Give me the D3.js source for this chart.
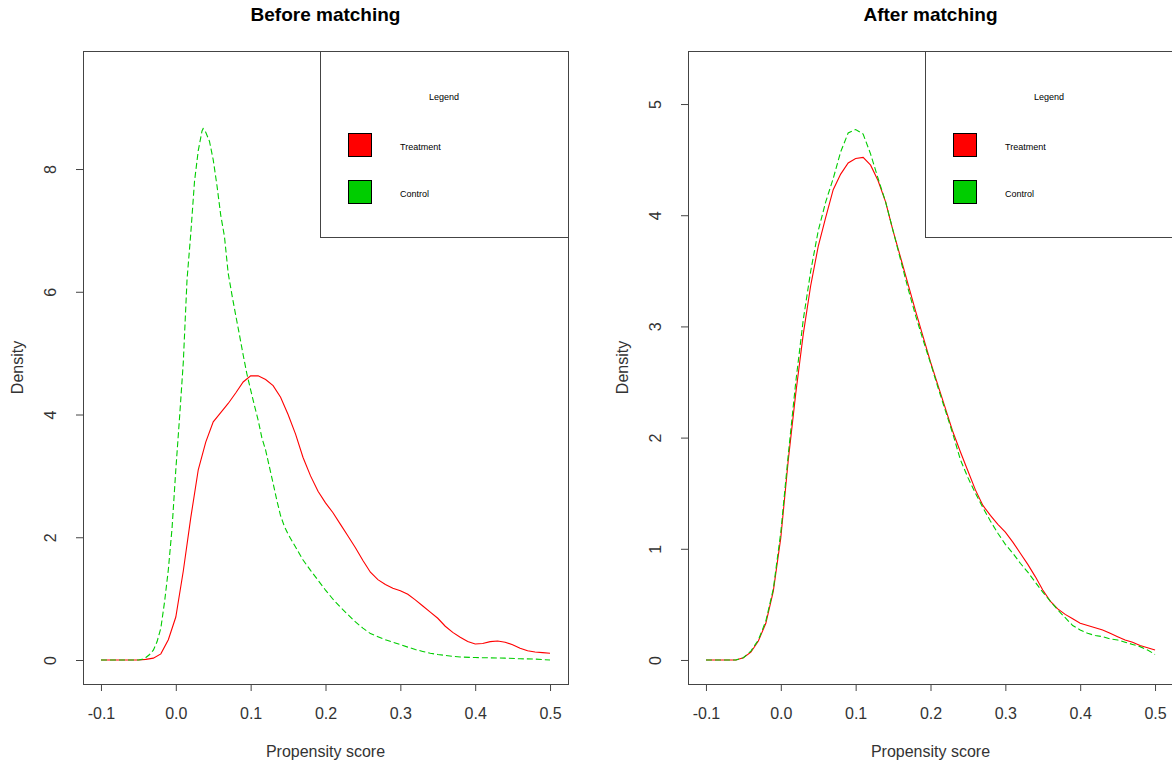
<!DOCTYPE html>
<html>
<head>
<meta charset="utf-8">
<script src="https://cdn.jsdelivr.net/npm/d3@7"></script>
<style>
  body { margin: 0; background: #fff; }
  svg text { font-family: Arial, "Liberation Sans", sans-serif; }
</style>
</head>
<body>
<svg id="chart" width="1172" height="769"></svg>
<script>
// x grid shared by the "before" treatment curve and both "after" curves
const gridX = [-0.10, -0.09, -0.08, -0.07, -0.06, -0.05, -0.04, -0.03, -0.02, -0.01,
  0.00, 0.01, 0.02, 0.03, 0.04, 0.05, 0.06, 0.07, 0.08, 0.09,
  0.10, 0.11, 0.12, 0.13, 0.14, 0.15, 0.16, 0.17, 0.18, 0.19,
  0.20, 0.21, 0.22, 0.23, 0.24, 0.25, 0.26, 0.27, 0.28, 0.29,
  0.30, 0.31, 0.32, 0.33, 0.34, 0.35, 0.36, 0.37, 0.38, 0.39,
  0.40, 0.41, 0.42, 0.43, 0.44, 0.45, 0.46, 0.47, 0.48, 0.49, 0.50];

// Before matching
const beforeTreatment = [0, 0, 0, 0, 0, 0, 0.01, 0.03, 0.10, 0.33,
  0.70, 1.45, 2.32, 3.10, 3.55, 3.88, 4.03, 4.18, 4.35, 4.53,
  4.63, 4.63, 4.57, 4.47, 4.28, 4.00, 3.68, 3.30, 3.00, 2.75,
  2.56, 2.40, 2.21, 2.02, 1.83, 1.62, 1.43, 1.31, 1.23, 1.17,
  1.13, 1.07, 0.98, 0.88, 0.78, 0.68, 0.55, 0.45, 0.37, 0.30,
  0.26, 0.27, 0.30, 0.31, 0.29, 0.25, 0.19, 0.15, 0.13, 0.12, 0.11];

const beforeControlX = [-0.10, -0.05, -0.045, -0.04, -0.035, -0.03, -0.025, -0.02, -0.015, -0.01,
  -0.005, 0.0, 0.005, 0.01, 0.015, 0.02, 0.025, 0.03, 0.035, 0.0365,
  0.04, 0.045, 0.05, 0.055, 0.06, 0.065, 0.07, 0.075, 0.08, 0.085,
  0.09, 0.095, 0.10, 0.105, 0.11, 0.115, 0.12, 0.125, 0.13, 0.135,
  0.14, 0.145, 0.15, 0.16, 0.17, 0.18, 0.19, 0.20, 0.21, 0.22,
  0.23, 0.24, 0.25, 0.26, 0.27, 0.28, 0.29, 0.30, 0.31, 0.32,
  0.33, 0.34, 0.35, 0.36, 0.37, 0.38, 0.40, 0.42, 0.44, 0.46, 0.48, 0.50];
const beforeControl = [0, 0, 0.01, 0.04, 0.09, 0.16, 0.30, 0.52, 0.95, 1.47,
  2.15, 3.10, 3.95, 4.85, 6.20, 6.95, 7.80, 8.30, 8.62, 8.66,
  8.60, 8.45, 8.15, 7.73, 7.25, 6.90, 6.30, 5.95, 5.62, 5.30,
  4.97, 4.66, 4.40, 4.15, 3.91, 3.62, 3.42, 3.15, 2.88, 2.60,
  2.35, 2.18, 2.05, 1.84, 1.63, 1.46, 1.30, 1.14, 0.99, 0.86,
  0.74, 0.62, 0.52, 0.43, 0.38, 0.33, 0.29, 0.25, 0.21, 0.17,
  0.14, 0.11, 0.09, 0.075, 0.06, 0.05, 0.04, 0.035, 0.03, 0.02, 0.015, 0.0];

// After matching
const afterTreatment = [0, 0, 0, 0, 0, 0.02, 0.07, 0.17, 0.33, 0.62,
  1.10, 1.80, 2.40, 2.93, 3.37, 3.72, 3.98, 4.23, 4.37, 4.47,
  4.51, 4.52, 4.45, 4.31, 4.12, 3.86, 3.62, 3.38, 3.14, 2.91,
  2.68, 2.47, 2.26, 2.05, 1.87, 1.70, 1.53, 1.39, 1.30, 1.22,
  1.15, 1.06, 0.96, 0.86, 0.75, 0.63, 0.53, 0.46, 0.41, 0.37,
  0.33, 0.31, 0.29, 0.27, 0.24, 0.21, 0.18, 0.16, 0.13, 0.11, 0.09];
const afterControl = [0, 0, 0, 0, 0, 0.02, 0.08, 0.18, 0.35, 0.64,
  1.15, 1.85, 2.50, 3.06, 3.50, 3.86, 4.12, 4.33, 4.57, 4.74,
  4.77, 4.73, 4.55, 4.33, 4.12, 3.86, 3.60, 3.34, 3.10, 2.88,
  2.67, 2.45, 2.24, 2.03, 1.80, 1.64, 1.50, 1.37, 1.25, 1.14,
  1.04, 0.96, 0.87, 0.79, 0.70, 0.61, 0.53, 0.45, 0.38, 0.31,
  0.27, 0.24, 0.22, 0.21, 0.19, 0.18, 0.16, 0.14, 0.12, 0.09, 0.05];

const xTicks = [-0.1, 0.0, 0.1, 0.2, 0.3, 0.4, 0.5];
const beforeYTicks = [0, 2, 4, 6, 8];
const afterYTicks = [0, 1, 2, 3, 4, 5];
const legendLabels = ["Treatment", "Control"];
const legendColors = ["#ff0000", "#00cd00"];

const svg = d3.select("#chart");

function drawPanel(opts) {
  const left = opts.left, top = 51, w = 485, h = 633;
  const g = svg.append("g");

  const x = d3.scaleLinear().domain([-0.124, 0.524]).range([left, left + w]);
  const y = d3.scaleLinear().domain(opts.yDomain).range([top + h, top]);

  // title
  g.append("text")
    .attr("x", left + w / 2).attr("y", 21)
    .attr("text-anchor", "middle")
    .style("font-size", "19px").style("font-weight", "bold")
    .text(opts.title);

  // x axis (plain hyphen for negatives, like R)
  const xAxis = g.append("g")
    .attr("transform", `translate(0,${top + h})`)
    .call(d3.axisBottom(x).tickValues(xTicks).tickFormat(d => d.toFixed(1)).tickSize(7).tickPadding(17));
  xAxis.select(".domain").remove();
  xAxis.selectAll("line").attr("stroke", "#444");
  xAxis.selectAll("text").style("font-size", "16px").attr("fill", "#333");
  xAxis.attr("font-family", null).attr("font-size", null);

  // y axis, labels rotated like R's default las = 0
  const yAxis = g.append("g")
    .attr("transform", `translate(${left},0)`)
    .call(d3.axisLeft(y).tickValues(opts.yTicks).tickFormat(d => String(d)).tickSize(7));
  yAxis.select(".domain").remove();
  yAxis.selectAll("line").attr("stroke", "#444");
  yAxis.selectAll("text")
    .attr("x", 0).attr("dy", null).attr("y", -27)
    .attr("text-anchor", "middle")
    .attr("transform", "rotate(-90)")
    .attr("fill", "#333")
    .style("font-size", "16px");
  yAxis.attr("font-family", null).attr("font-size", null);

  // axis titles
  g.append("text")
    .attr("x", left + w / 2).attr("y", 757)
    .attr("text-anchor", "middle")
    .attr("fill", "#333")
    .style("font-size", "16px")
    .text("Propensity score");
  g.append("text")
    .attr("transform", `translate(${left - 60},${top + h / 2}) rotate(-90)`)
    .attr("text-anchor", "middle")
    .attr("fill", "#333")
    .style("font-size", "16px")
    .text("Density");

  // curves
  const line = d3.line().x(d => x(d[0])).y(d => y(d[1]));
  const treat = opts.treatX.map((v, i) => [v, opts.treatY[i]]);
  const ctrl = opts.ctrlX.map((v, i) => [v, opts.ctrlY[i]]);

  g.append("path").datum(treat)
    .attr("d", line)
    .attr("fill", "none")
    .attr("stroke", legendColors[0])
    .attr("stroke-width", 1.1);
  g.append("path").datum(ctrl)
    .attr("d", line)
    .attr("fill", "none")
    .attr("stroke", legendColors[1])
    .attr("stroke-width", 1.1)
    .attr("stroke-dasharray", "6,3");

  // plot box
  g.append("rect")
    .attr("x", left + 0.5).attr("y", top + 0.5)
    .attr("width", w).attr("height", h)
    .attr("fill", "none").attr("stroke", "#444")
    .attr("shape-rendering", "crispEdges");

  // legend box in the top-right corner
  const lx = left + 237, ly = top, lw = w - 237, lh = 186;
  const lg = g.append("g");
  lg.append("rect")
    .attr("x", lx + 0.5).attr("y", ly + 0.5)
    .attr("width", lw).attr("height", lh)
    .attr("fill", "#fff").attr("stroke", "#444")
    .attr("shape-rendering", "crispEdges");
  lg.append("text")
    .attr("x", lx + 124).attr("y", ly + 49)
    .attr("text-anchor", "middle")
    .style("font-size", "9px")
    .text("Legend");
  legendLabels.forEach((lab, i) => {
    const yy = ly + 82 + i * 47;
    lg.append("rect")
      .attr("x", lx + 28.5).attr("y", yy + 0.5)
      .attr("width", 23).attr("height", 23)
      .attr("fill", legendColors[i]).attr("stroke", "#000")
      .attr("shape-rendering", "crispEdges");
    lg.append("text")
      .attr("x", lx + 80).attr("y", yy + 17)
      .style("font-size", "9px")
      .text(lab);
  });
}

drawPanel({
  left: 83, title: "Before matching",
  yDomain: [-0.391, 9.923], yTicks: beforeYTicks,
  treatX: gridX, treatY: beforeTreatment,
  ctrlX: beforeControlX, ctrlY: beforeControl
});

drawPanel({
  left: 688, title: "After matching",
  yDomain: [-0.216, 5.477], yTicks: afterYTicks,
  treatX: gridX, treatY: afterTreatment,
  ctrlX: gridX, ctrlY: afterControl
});
</script>
</body>
</html>
